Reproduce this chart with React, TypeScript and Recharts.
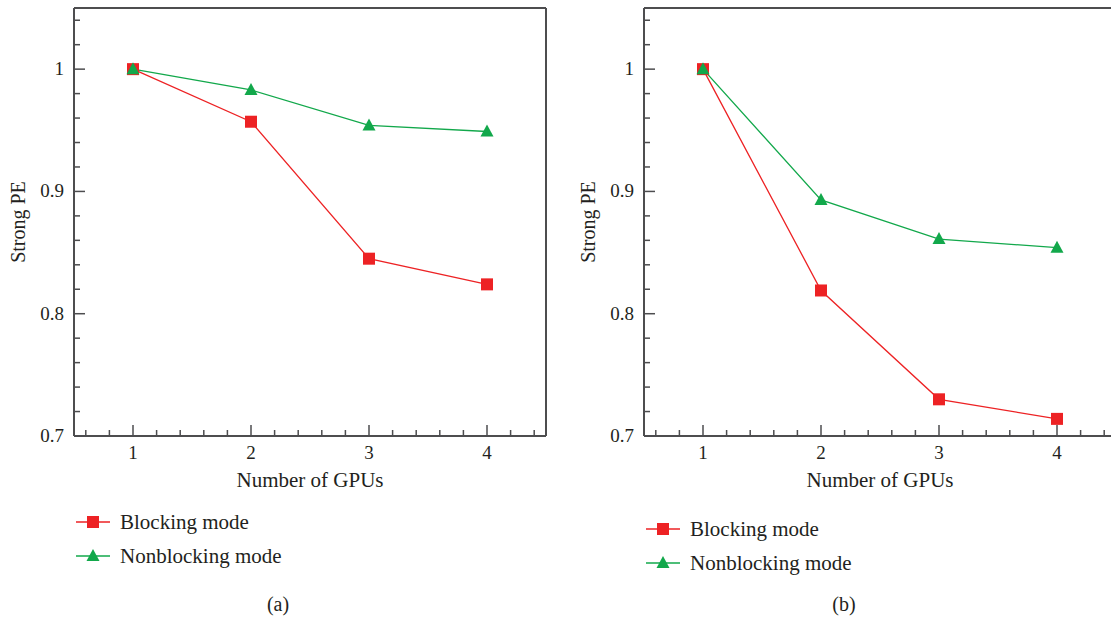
import React from 'react'
import { LineChart, Line, XAxis, YAxis, ReferenceLine, Legend } from 'recharts'

const gpus = [1, 2, 3, 4]
const blockingA = [1.0, 0.957, 0.845, 0.824]
const nonblockingA = [1.0, 0.983, 0.954, 0.949]
const blockingB = [1.0, 0.819, 0.73, 0.714]
const nonblockingB = [1.0, 0.893, 0.861, 0.854]

const xTicks = [0.6, 0.8, 1, 1.2, 1.4, 1.6, 1.8, 2, 2.2, 2.4, 2.6, 2.8, 3, 3.2, 3.4, 3.6, 3.8, 4, 4.2, 4.4]
const yTicks = [0.7, 0.72, 0.74, 0.76, 0.78, 0.8, 0.82, 0.84, 0.86, 0.88, 0.9, 0.92, 0.94, 0.96, 0.98, 1, 1.02, 1.04]

const RED = '#ed2224'
const GREEN = '#12a84b'
const AXIS = '#4d4d4f'
const TEXT = '#231f20'
const FONT = '"Liberation Serif", "Times New Roman", serif'

const isMajor = (v: number, step: number) => Math.abs(v / step - Math.round(v / step)) < 1e-6

function XTick(props: any) {
    const { x, y, payload } = props
    const major = isMajor(payload.value, 1)
    return (
        <g>
            <line x1={x} y1={y} x2={x} y2={y - (major ? 11 : 6)} stroke={AXIS} strokeWidth={1.5} />
            {major && (
                <text x={x} y={y + 23} textAnchor="middle" fontSize={19} fill={TEXT} fontFamily={FONT}>
                    {payload.value}
                </text>
            )}
        </g>
    )
}

function YTick(props: any) {
    const { x, y, payload } = props
    const major = isMajor(payload.value, 0.1)
    return (
        <g>
            <line x1={x} y1={y} x2={x + (major ? 11 : 6)} y2={y} stroke={AXIS} strokeWidth={1.5} />
            {major && (
                <text x={x - 10} y={y + 6} textAnchor="end" fontSize={19} fill={TEXT} fontFamily={FONT}>
                    {String(Math.round(payload.value * 10) / 10)}
                </text>
            )}
        </g>
    )
}

function SquareDot(props: any) {
    const { cx, cy } = props
    return <rect x={cx - 6} y={cy - 6} width={12} height={12} fill={RED} />
}

function TriangleDot(props: any) {
    const { cx, cy } = props
    return <path d={`M${cx},${cy - 7} L${cx + 6.5},${cy + 5} L${cx - 6.5},${cy + 5} Z`} fill={GREEN} />
}

function XLabel(props: any) {
    const { x, y, width } = props.viewBox
    return (
        <text x={x + width / 2} y={y + 51} textAnchor="middle" fontSize={21} fill={TEXT} fontFamily={FONT}>
            Number of GPUs
        </text>
    )
}

function YLabel(props: any) {
    const { x, y, height } = props.viewBox
    const cx = x + 18
    const cy = y + height / 2
    return (
        <text x={cx} y={cy} transform={`rotate(-90, ${cx}, ${cy})`} textAnchor="middle" dominantBaseline="central"
            fontSize={20} fill={TEXT} fontFamily={FONT}>
            Strong PE
        </text>
    )
}

function LegendContent() {
    const items = [
        { name: 'Blocking mode', color: RED, shape: 'square' },
        { name: 'Nonblocking mode', color: GREEN, shape: 'triangle' },
    ]
    return (
        <div>
            {items.map((it) => (
                <div key={it.name} style={{ display: 'flex', alignItems: 'center', height: 34 }}>
                    <svg width={34} height={20}>
                        <line x1={0} y1={10} x2={34} y2={10} stroke={it.color} strokeWidth={1.3} />
                        {it.shape === 'square'
                            ? <rect x={11} y={4} width={12} height={12} fill={it.color} />
                            : <path d="M17,3 L23.5,15 L10.5,15 Z" fill={it.color} />}
                    </svg>
                    <span style={{ marginLeft: 10, fontSize: 21, color: TEXT, fontFamily: FONT }}>{it.name}</span>
                </div>
            ))}
        </div>
    )
}

function Panel({ blocking, nonblocking, legendTop }: { blocking: number[]; nonblocking: number[]; legendTop: number }) {
    const data = gpus.map((g, i) => ({ gpus: g, blocking: blocking[i], nonblocking: nonblocking[i] }))
    return (
        <LineChart width={560} height={580} data={data} margin={{ top: 8, right: 14, left: 0, bottom: 84 }}>
            <XAxis
                dataKey="gpus"
                type="number"
                domain={[0.5, 4.5]}
                ticks={xTicks}
                interval={0}
                height={60}
                tickSize={0}
                tickMargin={0}
                tickLine={false}
                tick={<XTick />}
                stroke={AXIS}
                strokeWidth={2}
                allowDataOverflow
                label={<XLabel />}
            />
            <YAxis
                type="number"
                domain={[0.7, 1.05]}
                ticks={yTicks}
                interval={0}
                width={74}
                tickSize={0}
                tickMargin={0}
                tickLine={false}
                tick={<YTick />}
                stroke={AXIS}
                strokeWidth={2}
                allowDataOverflow
                label={<YLabel />}
            />
            <ReferenceLine y={1.05} stroke={AXIS} strokeWidth={2} />
            <ReferenceLine x={4.5} stroke={AXIS} strokeWidth={2} />
            <Line dataKey="blocking" name="Blocking mode" stroke={RED} strokeWidth={1.3} dot={<SquareDot />}
                activeDot={false} isAnimationActive={false} />
            <Line dataKey="nonblocking" name="Nonblocking mode" stroke={GREEN} strokeWidth={1.3} dot={<TriangleDot />}
                activeDot={false} isAnimationActive={false} />
            <Legend layout="vertical" align="center" verticalAlign="middle" content={<LegendContent />}
                wrapperStyle={{ left: 76, top: legendTop, width: 'auto', height: 'auto' }} />
        </LineChart>
    )
}

export default function App() {
    return (
        <div style={{ position: 'absolute', left: 0, top: 0, width: 1111, height: 618, overflow: 'hidden', background: '#fff' }}>
            <div style={{ position: 'absolute', left: 0, top: 0 }}>
                <Panel blocking={blockingA} nonblocking={nonblockingA} legendTop={505} />
            </div>
            <div style={{ position: 'absolute', left: 570, top: 0 }}>
                <Panel blocking={blockingB} nonblocking={nonblockingB} legendTop={512} />
            </div>
            <div style={{ position: 'absolute', left: 278, top: 604, transform: 'translate(-50%, -50%)', fontSize: 20, color: TEXT, fontFamily: FONT }}>(a)</div>
            <div style={{ position: 'absolute', left: 844, top: 604, transform: 'translate(-50%, -50%)', fontSize: 20, color: TEXT, fontFamily: FONT }}>(b)</div>
        </div>
    )
}
